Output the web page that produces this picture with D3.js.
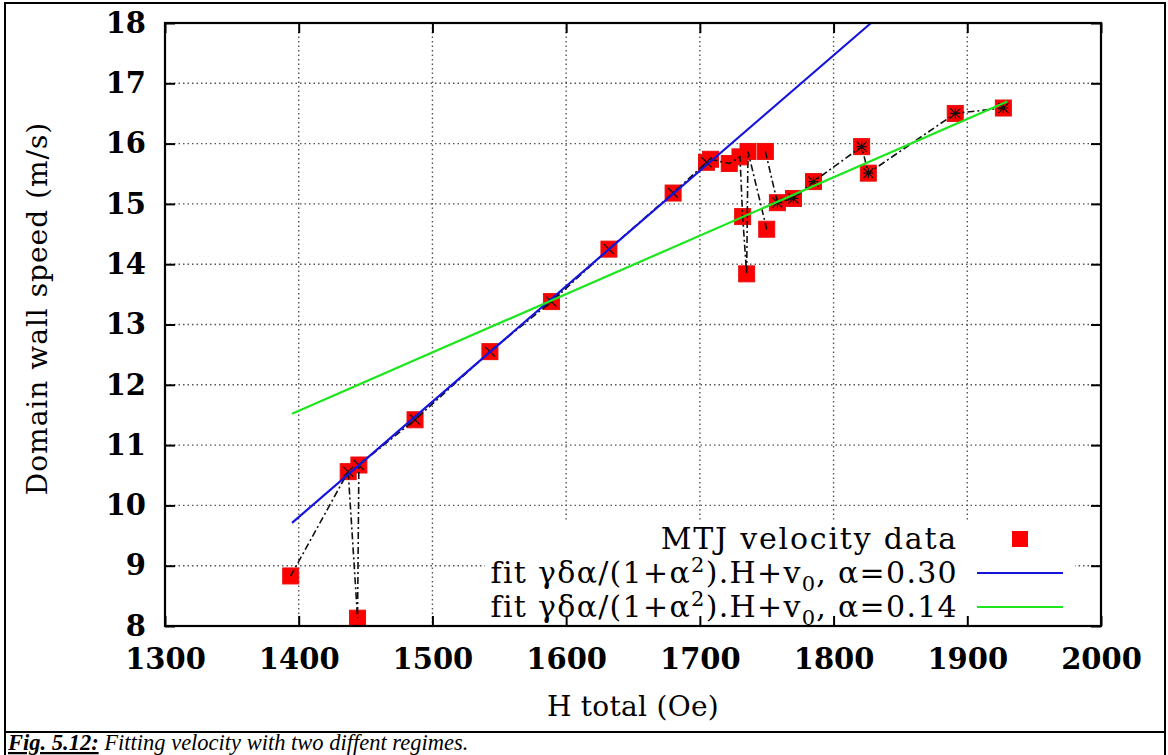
<!DOCTYPE html>
<html><head><meta charset="utf-8">
<script src="https://cdn.jsdelivr.net/npm/d3@7/dist/d3.min.js"></script>
<style>body{margin:0;background:#fff}svg{display:block}</style>
</head><body>
<svg id="c" width="1168" height="755"></svg>
<script>
// ---- data ----
const xTicks = [1300, 1400, 1500, 1600, 1700, 1800, 1900, 2000];
const yTicks = [8, 9, 10, 11, 12, 13, 14, 15, 16, 17, 18];

// measurement run 1 (low-field regime), in acquisition order
const run1H = [1394, 1437, 1444, 1445, 1487, 1543, 1589, 1632, 1680, 1705, 1708, 1722, 1730, 1732, 1735, 1736, 1750];
const run1V = [8.83, 10.56, 8.13, 10.67, 11.42, 12.55, 13.38, 14.25, 15.18, 15.69, 15.74, 15.67, 15.78, 14.79, 13.84, 15.87, 14.58];
const run1Mark = [0, 1, 0, 1, 1, 1, 1, 1, 1, 1, 0, 0, 0, 0, 0, 0, 0];
// measurement run 2 (high-field regime)
const run2H = [1749, 1758, 1770, 1785, 1821, 1826, 1891, 1927];
const run2V = [15.87, 15.02, 15.09, 15.37, 15.95, 15.51, 16.50, 16.59];
const run2Mark = [0, 1, 1, 1, 1, 1, 1, 1];

// fit lines (end points)
const fitBlueH = [1395, 1828];
const fitBlueV = [9.71, 18.0];
const fitGreenH = [1395, 1930];
const fitGreenV = [11.52, 16.70];

const legendLabels = ["MTJ velocity data", "0.30", "0.14"];

// ---- drawing ----
const svg = d3.select("#c");
const L = 165, R = 1101, T = 23, B = 626;
const x = d3.scaleLinear().domain([1300, 2000]).range([L, R]);
const y = d3.scaleLinear().domain([8, 18]).range([B, T]);
const serif = "'DejaVu Serif', serif";

// outer frame and caption separator
svg.append("rect").attr("x", 5).attr("y", 3).attr("width", 1160).attr("height", 760)
  .attr("fill", "none").attr("stroke", "#000").attr("stroke-width", 2);
svg.append("line").attr("x1", 5).attr("x2", 1165).attr("y1", 732).attr("y2", 732)
  .attr("stroke", "#000").attr("stroke-width", 2);

// grid
const grid = svg.append("g").attr("stroke", "#555").attr("stroke-width", 1.4).attr("stroke-dasharray", "1.5,3");
grid.selectAll(".gx").data(xTicks.slice(1, -1)).join("line")
  .attr("x1", d => x(d)).attr("x2", d => x(d)).attr("y1", T).attr("y2", B);
grid.selectAll(".gy").data(yTicks.slice(1, -1)).join("line")
  .attr("y1", d => y(d)).attr("y2", d => y(d)).attr("x1", L).attr("x2", R);

// red squares
const pts = run1H.map((h, i) => [h, run1V[i]]).concat(run2H.map((h, i) => [h, run2V[i]]));
const sq = 16;
svg.append("g").selectAll("rect").data(pts).join("rect")
  .attr("x", d => x(d[0]) - sq / 2).attr("y", d => y(d[1]) - sq / 2)
  .attr("width", sq).attr("height", sq).attr("fill", "#f00")
  .attr("stroke", "#e81010").attr("stroke-width", 1);

// dash-dot black connecting lines
const line = d3.line().x(d => x(d[0])).y(d => y(d[1]));
const runs = [
  {h: run1H, v: run1V, m: run1Mark, type: "x"},
  {h: run2H, v: run2V, m: run2Mark, type: "star"}
];
runs.forEach(r => {
  const data = r.h.map((h, i) => [h, r.v[i]]);
  svg.append("path").attr("d", line(data)).attr("fill", "none")
    .attr("stroke", "#111").attr("stroke-width", 1.6).attr("stroke-dasharray", "7,3,2,3");
  const mk = data.filter((d, i) => r.m[i]);
  const s = 5;
  svg.append("g").selectAll("path").data(mk).join("path")
    .attr("d", d => {
      const cx = x(d[0]), cy = y(d[1]);
      let p = `M${cx - s},${cy - s}L${cx + s},${cy + s}M${cx - s},${cy + s}L${cx + s},${cy - s}`;
      if (r.type === "star") p += `M${cx - s},${cy}L${cx + s},${cy}M${cx},${cy - s}L${cx},${cy + s}`;
      return p;
    })
    .attr("stroke", "#111").attr("stroke-width", 1.2).attr("fill", "none");
});

// fit lines
const blueData = fitBlueH.map((h, i) => [h, fitBlueV[i]]);
const greenData = fitGreenH.map((h, i) => [h, fitGreenV[i]]);
svg.append("path").attr("d", line(blueData)).attr("stroke", "#1414dc").attr("stroke-width", 2.2).attr("fill", "none");
svg.append("path").attr("d", line(greenData)).attr("stroke", "#1ee61e").attr("stroke-width", 2.2).attr("fill", "none");

// legend (opaque key)
svg.append("rect").attr("x", 485).attr("y", 521).attr("width", 590).attr("height", B - 522).attr("fill", "#fff");
const lg = svg.append("g").attr("font-family", serif).attr("font-size", 30).attr("letter-spacing", 1.3).attr("fill", "#000");
const ly = [539, 573, 607];
lg.append("text").attr("x", 958).attr("y", ly[0] + 10).attr("text-anchor", "end").attr("letter-spacing", 1.8).text(legendLabels[0]);
[1, 2].forEach(k => {
  const t = lg.append("text").attr("x", 958).attr("y", ly[k] + 10).attr("text-anchor", "end");
  t.append("tspan").text("fit γδα/(1+α");
  t.append("tspan").attr("font-size", 21).attr("dy", -11).text("2");
  t.append("tspan").attr("dy", 11).text(").H+v");
  t.append("tspan").attr("font-size", 21).attr("dy", 8).text("0");
  t.append("tspan").attr("dy", -8).text(", α=" + legendLabels[k]);
});
svg.append("rect").attr("x", 1012).attr("y", ly[0] - 8).attr("width", 16).attr("height", 16).attr("fill", "#f00");
svg.append("line").attr("x1", 977).attr("x2", 1063).attr("y1", ly[1]).attr("y2", ly[1]).attr("stroke", "#1414dc").attr("stroke-width", 2.2);
svg.append("line").attr("x1", 977).attr("x2", 1063).attr("y1", ly[2]).attr("y2", ly[2]).attr("stroke", "#1ee61e").attr("stroke-width", 2.2);

// axes (inward ticks, mirrored)
const styleAx = g => { g.select(".domain").remove(); g.selectAll("line").attr("stroke", "#000").attr("stroke-width", 2); };
svg.append("g").attr("transform", `translate(0,${B})`)
  .call(d3.axisBottom(x).tickValues(xTicks).tickSize(-10).tickPadding(22).tickFormat(d3.format("d")))
  .call(styleAx)
  .call(g => g.selectAll("text").attr("font-family", serif).attr("font-weight", "bold").attr("font-size", 29).attr("fill", "#000"));
svg.append("g").attr("transform", `translate(${L},0)`)
  .call(d3.axisLeft(y).tickValues(yTicks).tickSize(-10).tickPadding(19).tickFormat(d3.format("d")))
  .call(styleAx)
  .call(g => g.selectAll("text").attr("font-family", serif).attr("font-weight", "bold").attr("font-size", 29).attr("fill", "#000"));
svg.append("g").attr("transform", `translate(0,${T})`)
  .call(d3.axisTop(x).tickValues(xTicks).tickSize(-10).tickFormat(""))
  .call(styleAx);
svg.append("g").attr("transform", `translate(${R},0)`)
  .call(d3.axisRight(y).tickValues(yTicks).tickSize(-10).tickFormat(""))
  .call(styleAx);
svg.append("rect").attr("x", L).attr("y", T).attr("width", R - L).attr("height", B - T)
  .attr("fill", "none").attr("stroke", "#000").attr("stroke-width", 2.2);

// axis titles
svg.append("text").attr("x", (L + R) / 2).attr("y", 716).attr("text-anchor", "middle")
  .attr("font-family", serif).attr("font-size", 28).attr("letter-spacing", 0.3).text("H total (Oe)");
svg.append("text").attr("transform", `translate(47,${(T + B) / 2 - 16}) rotate(-90)`).attr("text-anchor", "middle")
  .attr("font-family", serif).attr("font-size", 28).attr("letter-spacing", 1).text("Domain wall speed (m/s)");

// caption
const cap = svg.append("text").attr("x", 8).attr("y", 750).attr("font-family", "'Liberation Serif', 'Times New Roman', serif")
  .attr("font-size", 22.5).attr("font-style", "italic");
cap.append("tspan").attr("font-weight", "bold").attr("text-decoration", "underline").text("Fig. 5.12:");
cap.append("tspan").text(" Fitting velocity with two diffent regimes.");
</script>
</body></html>
